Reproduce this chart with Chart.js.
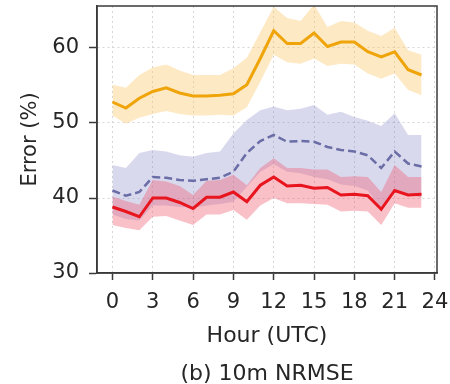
<!DOCTYPE html>
<html>
<head>
<meta charset="utf-8">
<script src="https://cdn.jsdelivr.net/npm/chart.js@4.4.1/dist/chart.umd.min.js"></script>
<style>
html, body { margin: 0; padding: 0; background: #fff; }
</style>
</head>
<body>
<canvas id="c" width="450" height="384"></canvas>
<script>
var hours = [0, 1, 2, 3, 4, 5, 6, 7, 8, 9, 10, 11, 12, 13, 14, 15, 16, 17, 18, 19, 20, 21, 22, 23];

var orangeMean  = [52.8, 52.0, 53.3, 54.2, 54.7, 54.0, 53.6, 53.6, 53.7, 53.9, 55.1, 58.6, 62.3, 60.6, 60.6, 62.0, 60.2, 60.8, 60.8, 59.5, 58.8, 59.5, 57.1, 56.4];
var orangeUpper = [55.1, 54.7, 56.4, 57.4, 57.8, 57.0, 56.4, 56.4, 56.4, 57.3, 58.7, 62.1, 65.5, 64.0, 63.6, 65.8, 62.8, 63.6, 63.4, 62.3, 61.6, 62.7, 59.7, 59.1];
var orangeLower = [51.0, 49.9, 50.7, 51.2, 51.6, 51.2, 51.0, 51.0, 51.1, 51.0, 52.1, 55.5, 59.1, 58.1, 57.9, 58.6, 57.6, 57.9, 57.8, 56.6, 55.9, 56.6, 54.4, 53.7];

var purpleMean  = [41.0, 40.3, 40.8, 42.8, 42.7, 42.4, 42.3, 42.5, 42.7, 43.5, 46.0, 47.6, 48.4, 47.5, 47.6, 47.5, 46.8, 46.4, 46.2, 45.7, 44.0, 46.2, 44.6, 44.2];
var purpleUpper = [44.4, 44.0, 46.0, 46.4, 46.2, 45.7, 45.5, 46.0, 46.2, 48.6, 50.4, 51.7, 52.2, 51.7, 51.9, 52.4, 51.1, 51.5, 50.8, 50.3, 49.6, 51.3, 48.4, 48.4];
var purpleLower = [37.8, 37.2, 37.0, 39.0, 39.0, 38.8, 38.7, 39.0, 39.2, 39.5, 41.5, 43.5, 44.5, 43.5, 43.3, 42.8, 42.5, 41.8, 41.6, 41.0, 38.5, 41.0, 40.6, 40.0];

var redMean  = [38.8, 38.2, 37.5, 40.0, 40.0, 39.4, 38.6, 40.1, 40.1, 40.8, 39.5, 41.7, 42.8, 41.6, 41.7, 41.3, 41.4, 40.4, 40.5, 40.3, 38.5, 41.0, 40.4, 40.5];
var redUpper = [40.2, 39.6, 39.1, 42.4, 42.2, 41.6, 40.4, 42.3, 42.4, 43.1, 41.7, 44.0, 45.3, 44.0, 44.0, 43.8, 43.8, 42.8, 42.9, 42.8, 40.8, 44.4, 42.8, 42.8];
var redLower = [36.4, 36.0, 35.7, 37.5, 37.6, 37.0, 36.4, 37.8, 37.8, 38.4, 37.1, 39.0, 40.0, 39.3, 39.3, 39.2, 39.1, 38.2, 38.3, 38.2, 36.4, 39.3, 38.7, 38.7];

var xTickValues = [0, 3, 6, 9, 12, 15, 18, 21, 24];
var yTickValues = [30, 40, 50, 60];

function pts(arr) {
	return hours.map((h, i) => ({ x: h, y: arr[i] }));
}

function lineSet(arr, color, width, dash) {
	return {
		data: pts(arr),
		borderColor: color,
		borderWidth: width,
		borderDash: dash,
		pointRadius: 0,
		tension: 0,
		fill: false
	};
}

function bandSet(arr, color, target) {
	return {
		data: pts(arr),
		borderColor: 'rgba(0,0,0,0)',
		borderWidth: 0,
		backgroundColor: color,
		pointRadius: 0,
		tension: 0,
		fill: target
	};
}

// draws top and right spines too, like matplotlib
var boxPlugin = {
	id: 'box',
	afterDatasetsDraw(chart) {
		var a = chart.chartArea;
		var ctx = chart.ctx;
		ctx.save();
		ctx.setLineDash([]);
		ctx.strokeStyle = '#3a3a3a';
		ctx.lineWidth = 1.5;
		ctx.strokeRect(a.left, a.top, a.right - a.left, a.bottom - a.top);
		ctx.restore();
	}
};

var textColor = '#262626';
var gridColor = '#d6d6d6';

var config = {
	type: 'line',
	data: {
		datasets: [
			lineSet(redMean, '#e8141e', 3, []),
			lineSet(purpleMean, '#6b6ea6', 2.5, [8, 4]),
			lineSet(orangeMean, '#efa40a', 3, []),
			bandSet(redUpper, 'rgba(238, 90, 110, 0.38)', 4),
			bandSet(redLower, 'rgba(0,0,0,0)', false),
			bandSet(purpleUpper, 'rgba(130, 130, 200, 0.30)', 6),
			bandSet(purpleLower, 'rgba(0,0,0,0)', false),
			bandSet(orangeUpper, 'rgba(253, 200, 110, 0.40)', 8),
			bandSet(orangeLower, 'rgba(0,0,0,0)', false)
		]
	},
	options: {
		responsive: false,
		animation: false,
		layout: { padding: { top: 6, right: 13, left: 0, bottom: 0 } },
		plugins: {
			legend: { display: false },
			tooltip: { enabled: false }
		},
		scales: {
			x: {
				type: 'linear',
				min: -1.15,
				max: 24.15,
				afterBuildTicks: (scale) => {
					scale.ticks = xTickValues.map(v => ({ value: v }));
				},
				afterFit: (scale) => {
					scale.height = 111;
					scale.paddingLeft = 0;
					scale.paddingRight = 0;
				},
				ticks: {
					color: textColor,
					font: { family: 'DejaVu Sans', size: 21 },
					padding: 10,
					maxRotation: 0,
					autoSkip: false
				},
				grid: {
					color: gridColor,
					lineWidth: 1,
					tickLength: 7,
					tickColor: '#3a3a3a',
					tickWidth: 1.5,
					tickBorderDash: []
				},
				border: { display: true, color: '#3a3a3a', width: 1.5, dash: [2, 3] },
				// axis label and the panel caption share the block under the axis
				title: {
					display: true,
					text: ['Hour (UTC)', '(b) 10m NRMSE'],
					color: textColor,
					font: { family: 'DejaVu Sans', size: 22, lineHeight: '38px' },
					padding: { top: 0, bottom: -9 }
				}
			},
			y: {
				min: 30,
				max: 65.6,
				afterBuildTicks: (scale) => {
					scale.ticks = yTickValues.map(v => ({ value: v }));
				},
				afterFit: (scale) => {
					scale.width = 97;
					scale.paddingTop = 0;
					scale.paddingBottom = 0;
				},
				ticks: {
					color: textColor,
					font: { family: 'DejaVu Sans', size: 21 },
					padding: 10
				},
				grid: {
					color: gridColor,
					lineWidth: 1,
					tickLength: 8,
					tickColor: '#3a3a3a',
					tickWidth: 1.5,
					tickBorderDash: []
				},
				border: { display: true, color: '#3a3a3a', width: 1.5, dash: [2, 3] },
				title: {
					display: true,
					text: 'Error (%)',
					color: textColor,
					font: { family: 'DejaVu Sans', size: 21 },
					padding: { top: 18, bottom: 0 }
				}
			}
		}
	},
	plugins: [boxPlugin]
};

var bieuDo = new Chart(document.getElementById('c').getContext('2d'), config);
</script>
</body>
</html>
